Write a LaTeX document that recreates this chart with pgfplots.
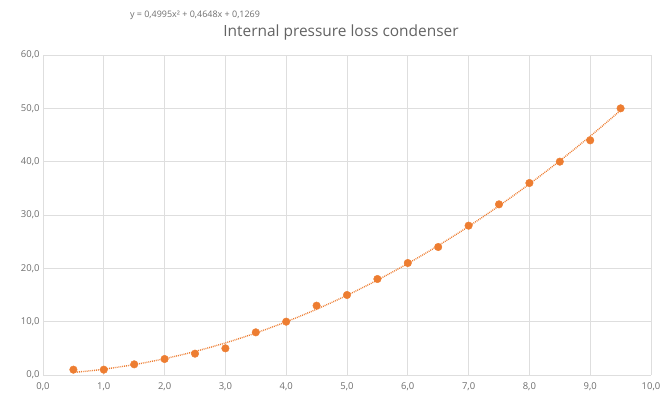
\documentclass[border=0pt]{standalone}
\usepackage{pgfplots}
\pgfplotsset{compat=1.18}
\usepackage{fontspec}
\setmainfont{Open Sans}
\definecolor{xlorange}{RGB}{237,125,49}
\definecolor{gridgray}{RGB}{222,222,222}
\definecolor{labgray}{RGB}{110,110,110}
\begin{document}
\begin{tikzpicture}
\useasboundingbox (-43bp,-25bp) rectangle (619bp,375bp);
\begin{axis}[
    at={(0,0)}, anchor=origin,
    scale only axis,
    width=608bp, height=320bp,
    xmin=0, xmax=10, ymin=0, ymax=60,
    xtick={0,1,...,10}, ytick={0,10,...,60},
    grid=major,
    major grid style={draw=gridgray, line width=0.8pt},
    axis line style={draw=none},
    tick style={draw=none},
    ticklabel style={font=\fontsize{9.5}{11}\selectfont, text=labgray},
    xticklabel style={yshift=-4bp},
    /pgf/number format/.cd, fixed, fixed zerofill, precision=1, use comma, assume math mode=true,
    ]
    % trendline (Excel polynomial, order 2)
    \addplot[xlorange, line width=1.4pt, dash pattern=on 0.9pt off 1pt, smooth, no marks]
        coordinates {
        (0.5,0.484)(0.75,0.757)(1.0,1.091)(1.5,1.948)(2.0,3.055)(2.5,4.411)(3.0,6.017)
        (3.5,7.873)(4.0,9.978)(4.5,12.333)(5.0,14.938)(5.5,17.793)(6.0,20.898)
        (6.5,24.252)(7.0,27.856)(7.5,31.710)(8.0,35.813)(8.5,40.167)(9.0,44.770)(9.5,49.622)
        };
    % measured points
    \addplot[only marks, mark=*, mark size=3.8pt, color=xlorange]
        coordinates {
        (0.5,1)(1.0,1)(1.5,2)(2.0,3)(2.5,4)(3.0,5)(3.5,8)(4.0,10)(4.5,13)(5.0,15)
        (5.5,18)(6.0,21)(6.5,24)(7.0,28)(7.5,32)(8.0,36)(8.5,40)(9.0,44)(9.5,50)
        };
\end{axis}
\node[font=\fontsize{15.5}{18}\selectfont, text=labgray!90!black] at (298bp,343bp) {Internal pressure loss condenser};
\node[font=\fontsize{9}{10}\selectfont, text=labgray] at (152bp,360bp) {y = 0,4995x² + 0,4648x + 0,1269};
\end{tikzpicture}
\end{document}
